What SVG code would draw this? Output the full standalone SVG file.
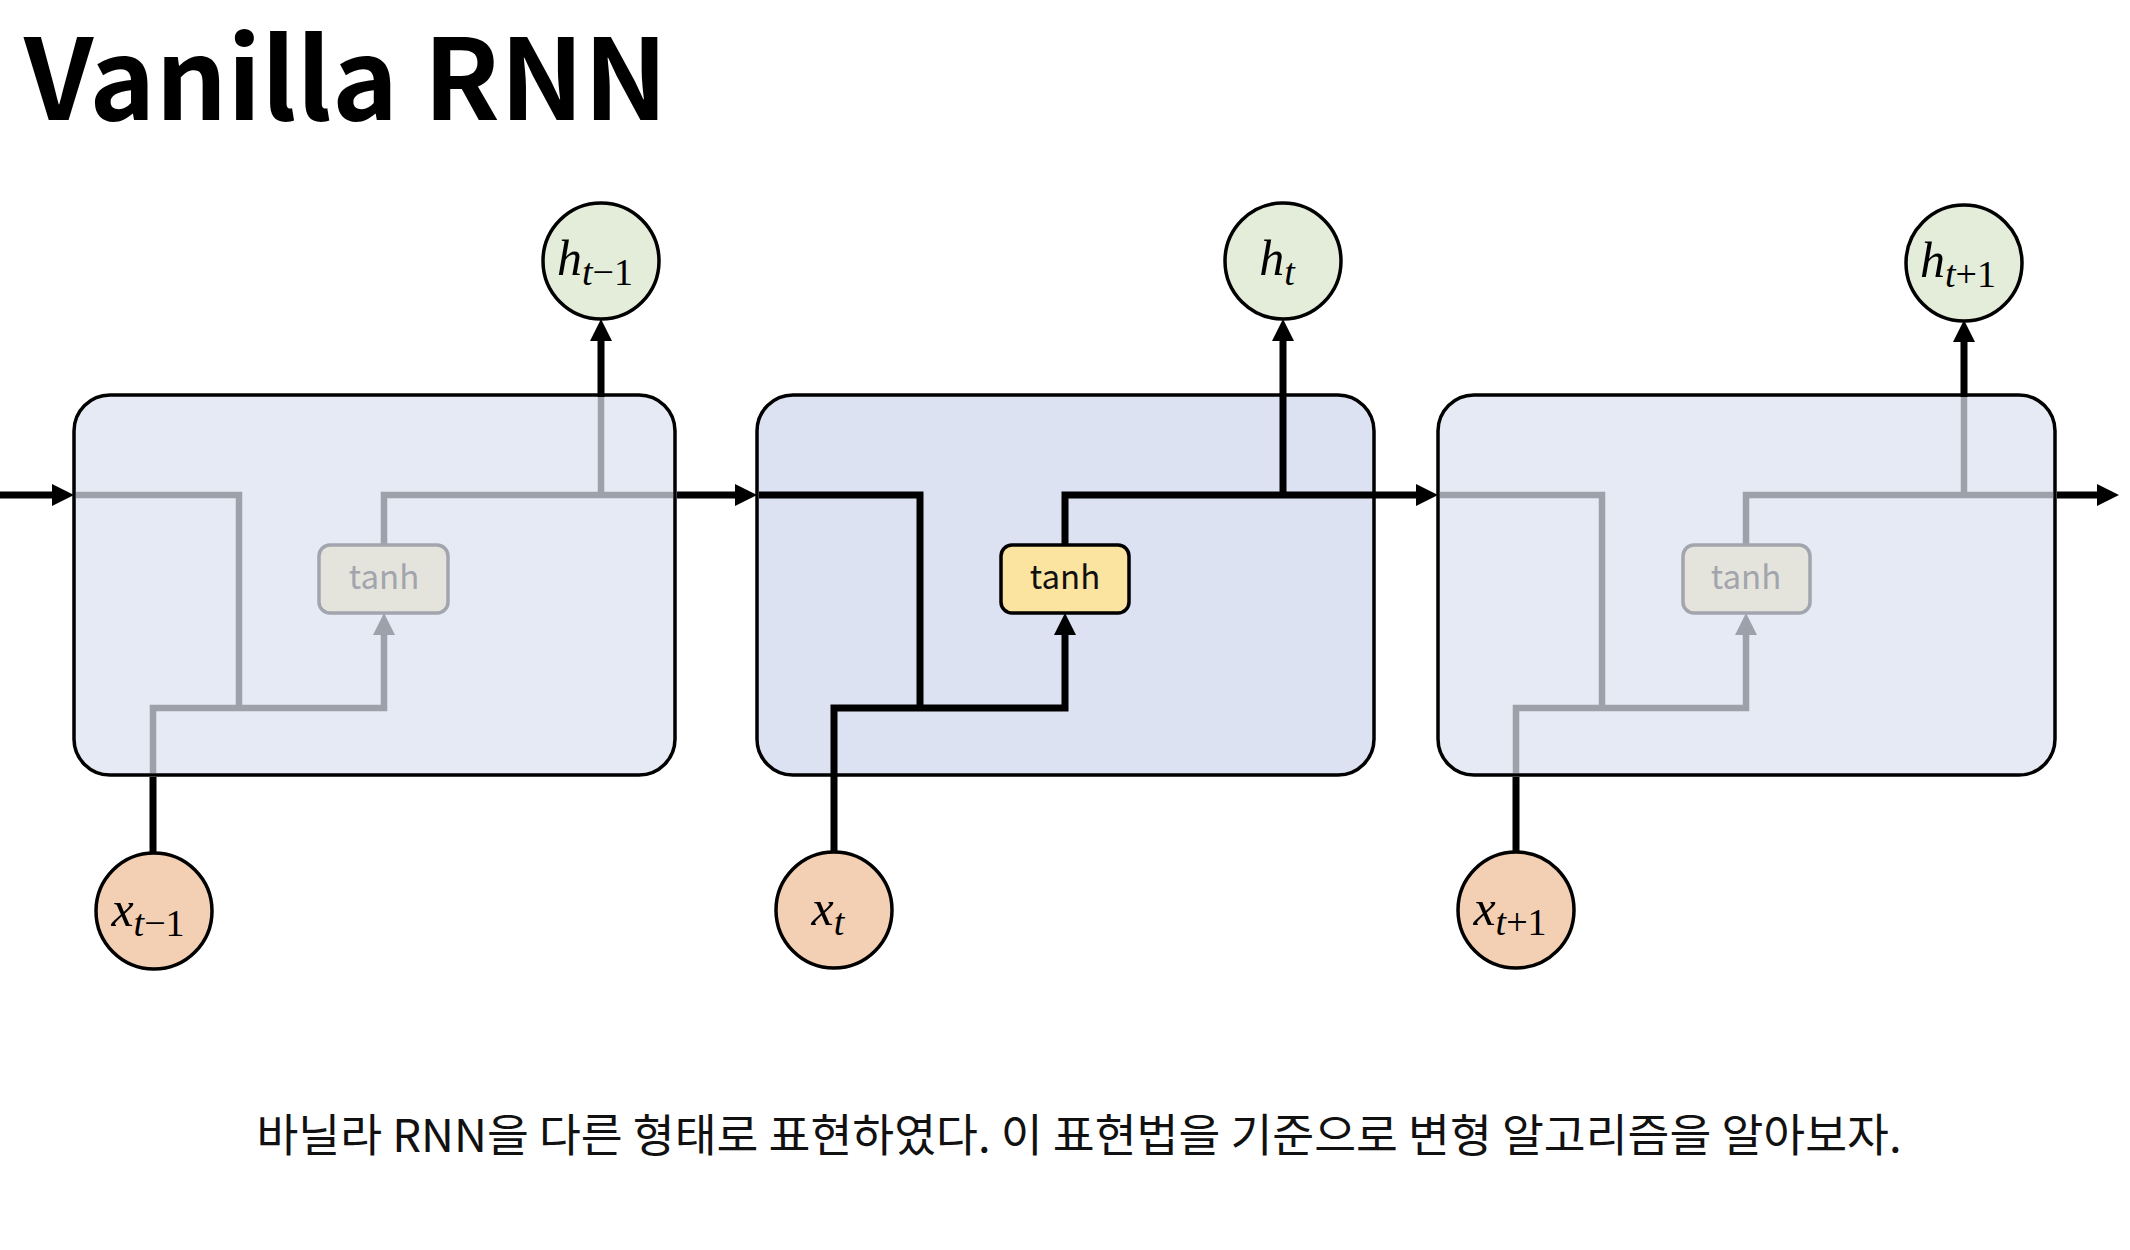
<svg xmlns="http://www.w3.org/2000/svg" width="2130" height="1250" viewBox="0 0 2130 1250">
<style>
.cell{stroke:#000;stroke-width:3.5}
.cellA{fill:#E6EAF5}
.cellB{fill:#DCE2F2}
.blk{fill:none;stroke:#000;stroke-width:7;stroke-linejoin:miter}
.gry{fill:none;stroke:#9EA1AA;stroke-width:6.5;stroke-linejoin:miter}
.tanhOn rect{fill:#FAE4A0;stroke:#000;stroke-width:3.5}
.tanhOff rect{fill:#E5E4DC;stroke:#A2A5AD;stroke-width:3.5}
.tanhOn text{fill:#111;font-family:"Noto Sans CJK KR","Noto Sans",sans-serif;font-size:33px;text-anchor:middle}
.tanhOff text{fill:#A2A5AD;font-family:"Noto Sans CJK KR","Noto Sans",sans-serif;font-size:33px;text-anchor:middle}
.hC{fill:#E3EDDA;stroke:#000;stroke-width:3.5}
.xC{fill:#F3CFB3;stroke:#000;stroke-width:3.5}
.math{font-family:"Liberation Serif","DejaVu Serif",serif;font-size:50px;text-anchor:middle;fill:#000}
.it{font-style:italic}
.sub{font-size:38px}
.title{font-family:"Noto Sans CJK KR","Noto Sans",sans-serif;font-weight:bold;font-size:112px;fill:#000}
.cap{font-family:"Noto Sans CJK KR","Noto Sans",sans-serif;font-size:45.5px;fill:#111;text-anchor:middle}
</style>
<defs>
<marker id="ab" markerUnits="userSpaceOnUse" viewBox="0 0 22 22" markerWidth="22" markerHeight="22" refX="0" refY="11" orient="auto"><path d="M0,0 L22,11 L0,22 z" fill="#000"/></marker>
<marker id="ag" markerUnits="userSpaceOnUse" viewBox="0 0 22 22" markerWidth="22" markerHeight="22" refX="0" refY="11" orient="auto"><path d="M0,0 L22,11 L0,22 z" fill="#9EA1AA"/></marker>
</defs>
<rect width="2130" height="1250" fill="#fff"/>
<text class="title" x="24" y="120">Vanilla RNN</text>

<g id="cell1"><rect class="cell cellA" x="74" y="395" width="601" height="380" rx="36"/></g>
<g id="cell2"><rect class="cell cellB" x="757" y="395" width="617" height="380" rx="36"/></g>
<g id="cell3"><rect class="cell cellA" x="1438" y="395" width="617" height="380" rx="36"/></g>

<g id="connectors">
<path class="blk" d="M0,495 H52" marker-end="url(#ab)"/>
<path class="gry" d="M76,495 H239 V708"/>
<path class="gry" d="M153,773 V708 H384 V635" marker-end="url(#ag)"/>
<path class="gry" d="M384,544 V495 H673"/>
<path class="gry" d="M601,495 V397"/>
<path class="blk" d="M601,397 V341" marker-end="url(#ab)"/>
<path class="blk" d="M153,852 V777"/>
<path class="blk" d="M677,495 H735" marker-end="url(#ab)"/>
<path class="blk" d="M759,495 H920 V708"/>
<path class="blk" d="M834,852 V708 H1065 V635" marker-end="url(#ab)"/>
<path class="blk" d="M1065,544 V495 H1416" marker-end="url(#ab)"/>
<path class="blk" d="M1283,495 V341" marker-end="url(#ab)"/>
<path class="gry" d="M1440,495 H1602 V708"/>
<path class="gry" d="M1516,773 V708 H1746 V635" marker-end="url(#ag)"/>
<path class="gry" d="M1746,544 V495 H2053"/>
<path class="gry" d="M1964,495 V397"/>
<path class="blk" d="M1964,397 V342" marker-end="url(#ab)"/>
<path class="blk" d="M1516,852 V777"/>
<path class="blk" d="M2057,495 H2097" marker-end="url(#ab)"/>
</g>

<g id="tanh1" class="tanhOff"><rect x="319" y="545" width="129" height="68" rx="11"/><text x="384" y="589">tanh</text></g>
<g id="tanh2" class="tanhOn"><rect x="1001" y="545" width="128" height="68" rx="11"/><text x="1065" y="589">tanh</text></g>
<g id="tanh3" class="tanhOff"><rect x="1683" y="545" width="127" height="68" rx="11"/><text x="1746" y="589">tanh</text></g>

<g id="h1"><circle class="hC" cx="601" cy="261" r="58"/><text class="math" x="595" y="275"><tspan class="it">h</tspan><tspan class="sub" dy="10"><tspan class="it">t</tspan>−1</tspan></text></g>
<g id="h2"><circle class="hC" cx="1283" cy="261" r="58"/><text class="math" x="1277" y="275"><tspan class="it">h</tspan><tspan class="sub it" dy="10">t</tspan></text></g>
<g id="h3"><circle class="hC" cx="1964" cy="263" r="58"/><text class="math" x="1958" y="277"><tspan class="it">h</tspan><tspan class="sub" dy="10"><tspan class="it">t</tspan>+1</tspan></text></g>

<g id="x1"><circle class="xC" cx="154" cy="911" r="58"/><text class="math" x="148" y="926"><tspan class="it">x</tspan><tspan class="sub" dy="10"><tspan class="it">t</tspan>−1</tspan></text></g>
<g id="x2"><circle class="xC" cx="834" cy="910" r="58"/><text class="math" x="828" y="925"><tspan class="it">x</tspan><tspan class="sub it" dy="10">t</tspan></text></g>
<g id="x3"><circle class="xC" cx="1516" cy="910" r="58"/><text class="math" x="1510" y="925"><tspan class="it">x</tspan><tspan class="sub" dy="10"><tspan class="it">t</tspan>+1</tspan></text></g>

<text class="cap" x="1079" y="1152">바닐라 RNN을 다른 형태로 표현하였다. 이 표현법을 기준으로 변형 알고리즘을 알아보자.</text>
</svg>
